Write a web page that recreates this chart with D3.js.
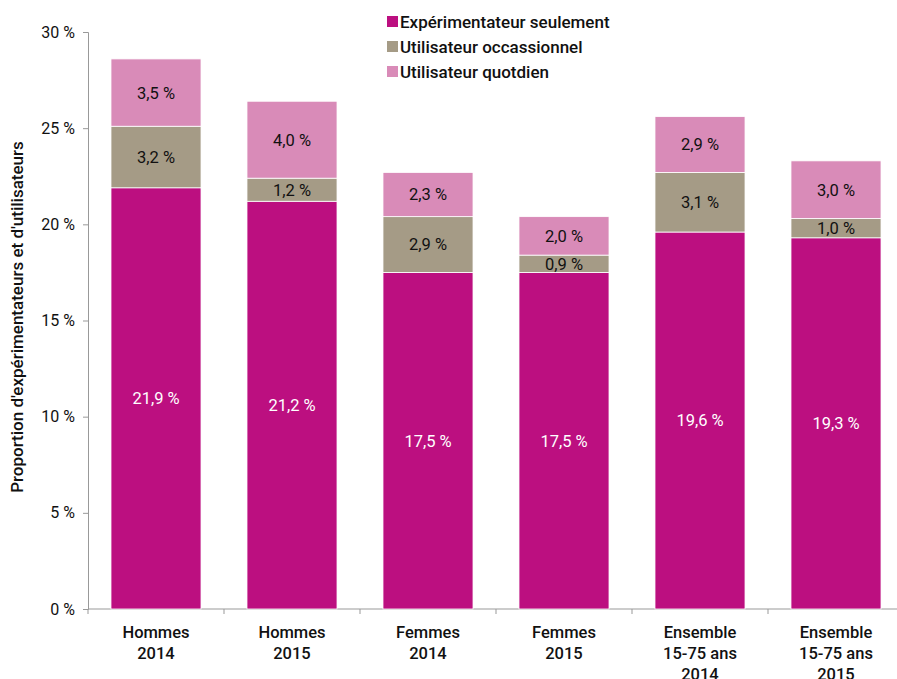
<!DOCTYPE html>
<html>
<head>
<meta charset="utf-8">
<script src="https://cdn.jsdelivr.net/npm/d3@7"></script>
<style>
  body { margin: 0; background: #fff; }
  svg { font-family: Roboto, "Noto Sans", sans-serif; }
</style>
</head>
<body>
<script>
// stacked bars: experimentation / use of e-cigarette
const W = 897, H = 679;

const categories = [
    ["Hommes", "2014"],
    ["Hommes", "2015"],
    ["Femmes", "2014"],
    ["Femmes", "2015"],
    ["Ensemble", "15-75 ans", "2014"],
    ["Ensemble", "15-75 ans", "2015"],
];
const seulement   = [21.9, 21.2, 17.5, 17.5, 19.6, 19.3];
const occasionnel = [3.2, 1.2, 2.9, 0.9, 3.1, 1.0];
const quotidien   = [3.5, 4.0, 2.3, 2.0, 2.9, 3.0];
const seriesNames = ["Expérimentateur seulement", "Utilisateur occassionnel", "Utilisateur quotdien"];
const yTicks = [0, 5, 10, 15, 20, 25, 30];

const colors = ["#bc0f80", "#a59b86", "#d98bb8"];
const labelColors = ["#fff", "#111", "#111"];

const svg = d3.select("body").append("svg").attr("width", W).attr("height", H);

const x = d3.scaleBand()
    .domain(d3.range(categories.length))
    .range([88, 904])
    .paddingInner(0.338)
    .paddingOuter(0.169);
const y = d3.scaleLinear().domain([0, 30]).range([609, 32]);

const fmt = v => v.toFixed(1).replace(".", ",") + " %";

// stack
const rows = categories.map((c, i) => ({ i, s0: seulement[i], s1: occasionnel[i], s2: quotidien[i] }));
const stack = d3.stack().keys(["s0", "s1", "s2"])(rows);

// y axis
const yAxis = svg.append("g").attr("transform", "translate(88,0)")
    .call(d3.axisLeft(y).tickValues(yTicks).tickSize(5).tickPadding(8).tickFormat(d => d + " %"));
yAxis.select(".domain").attr("stroke", "#999");
yAxis.selectAll(".tick line").attr("stroke", "#999");
yAxis.selectAll(".tick text").attr("font-size", 16).attr("fill", "#111").attr("font-family", "Roboto");

// x axis
const xg = svg.append("g").attr("transform", "translate(0,609)");
xg.append("line").attr("x1", 88).attr("x2", W).attr("y1", 0).attr("y2", 0).attr("stroke", "#999");
xg.selectAll("line.tk")
    .data(d3.range(categories.length))
    .join("line").attr("class", "tk")
    .attr("x1", d => x(d) - x.step() * x.paddingOuter())
    .attr("x2", d => x(d) - x.step() * x.paddingOuter())
    .attr("y1", 0).attr("y2", 5)
    .attr("stroke", "#999");
xg.selectAll("text.cat")
    .data(categories)
    .join("text").attr("class", "cat")
    .attr("x", (d, i) => x(i) + x.bandwidth() / 2)
    .attr("y", 29)
    .attr("text-anchor", "middle")
    .attr("font-size", 16.5).attr("font-weight", 500).attr("fill", "#111")
    .each(function(d) {
        d.forEach((line, k) => {
            d3.select(this).append("tspan")
                .attr("x", d3.select(this).attr("x"))
                .attr("dy", k === 0 ? 0 : 21)
                .text(line);
        });
    });

// bars
stack.forEach((layer, si) => {
    const g = svg.append("g");
    g.selectAll("rect")
        .data(layer)
        .join("rect")
        .attr("x", d => x(d.data.i))
        .attr("width", x.bandwidth())
        .attr("y", d => y(d[1]))
        .attr("height", d => y(d[0]) - y(d[1]))
        .attr("fill", colors[si])
        .attr("stroke", "#fff")
        .attr("stroke-width", 0.8);
    g.selectAll("text")
        .data(layer)
        .join("text")
        .attr("x", d => x(d.data.i) + x.bandwidth() / 2)
        .attr("y", d => (y(d[0]) + y(d[1])) / 2)
        .attr("dy", "0.36em")
        .attr("text-anchor", "middle")
        .attr("font-size", 16.5)
        .attr("fill", labelColors[si])
        .text(d => fmt(d[1] - d[0]));
});

// y title
svg.append("text")
    .attr("transform", "translate(23,317) rotate(-90)")
    .attr("text-anchor", "middle")
    .attr("font-size", 17).attr("font-weight", 500).attr("fill", "#111")
    .text("Proportion d'expérimentateurs et d'utilisateurs");

// legend
const leg = svg.append("g").attr("transform", "translate(387,22)");
seriesNames.forEach((name, i) => {
    const row = leg.append("g").attr("transform", `translate(0,${i * 25})`);
    row.append("rect").attr("x", 0).attr("y", -6).attr("width", 11).attr("height", 11).attr("fill", colors[i]);
    row.append("text").attr("x", 13).attr("y", 0).attr("dy", "0.36em")
        .attr("font-size", 17).attr("font-weight", 500).attr("fill", "#111")
        .text(name);
});
</script>
</body>
</html>
